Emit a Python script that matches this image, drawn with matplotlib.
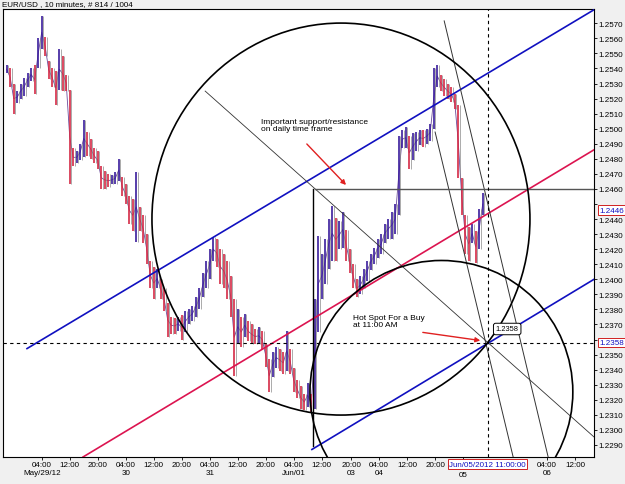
import matplotlib.pyplot as plt
from matplotlib.patches import Ellipse
import numpy as np

plt.rcParams['font.family'] = ['Liberation Sans', 'DejaVu Sans']

# hourly high/low of EUR/USD, x = trading hours since May/29 00:00 (weekend removed)
hours = list(range(-6, 131))
highs = [1.2542, 1.2540, 1.2530, 1.2525, 1.2530, 1.2534, 1.2537, 1.2540, 1.2542, 1.2560,
         1.2575, 1.2561, 1.2545, 1.2540, 1.2538, 1.2553, 1.2548, 1.2536, 1.2526, 1.2487,
         1.2485, 1.2490, 1.2506, 1.2498, 1.2493, 1.2487, 1.2485, 1.2475, 1.2472, 1.2470,
         1.2469, 1.2471, 1.2480, 1.2468, 1.2463, 1.2455, 1.2453, 1.2471, 1.2448, 1.2443,
         1.2430, 1.2412, 1.2408, 1.2407, 1.2400, 1.2394, 1.2384, 1.2375, 1.2374, 1.2375,
         1.2376, 1.2379, 1.2380, 1.2382, 1.2388, 1.2394, 1.2404, 1.2412, 1.2420, 1.2428,
         1.2427, 1.2420, 1.2417, 1.2412, 1.2402, 1.2387, 1.2380, 1.2375, 1.2377, 1.2372,
         1.2370, 1.2367, 1.2368, 1.2366, 1.2357, 1.2347, 1.2352, 1.2355, 1.2354, 1.2352,
         1.2366, 1.2354, 1.2341, 1.2333, 1.2329, 1.2324, 1.2331, 1.2324, 1.2387, 1.2429,
         1.2417, 1.2427, 1.2440, 1.2449, 1.2441, 1.2439, 1.2445, 1.2433, 1.2420, 1.2410,
         1.2400, 1.2402, 1.2407, 1.2412, 1.2417, 1.2421, 1.2427, 1.2430, 1.2437, 1.2440,
         1.2445, 1.2450, 1.2495, 1.2499, 1.2501, 1.2495, 1.2497, 1.2498, 1.2499, 1.2499,
         1.2500, 1.2503, 1.2540, 1.2542, 1.2536, 1.2533, 1.2530, 1.2528, 1.2523, 1.2516,
         1.2467, 1.2443, 1.2435, 1.2437, 1.2432, 1.2447, 1.2457]
lows = [1.2537, 1.2528, 1.2510, 1.2517, 1.2520, 1.2522, 1.2528, 1.2532, 1.2523, 1.2540,
        1.2553, 1.2548, 1.2533, 1.2528, 1.2516, 1.2526, 1.2525, 1.2525, 1.2463, 1.2475,
        1.2477, 1.2479, 1.2481, 1.2482, 1.2480, 1.2477, 1.2473, 1.2460, 1.2460, 1.2461,
        1.2463, 1.2463, 1.2465, 1.2455, 1.2450, 1.2437, 1.2432, 1.2425, 1.2432, 1.2424,
        1.2410, 1.2394, 1.2387, 1.2394, 1.2387, 1.2379, 1.2362, 1.2364, 1.2364, 1.2366,
        1.2360, 1.2365, 1.2370, 1.2372, 1.2375, 1.2380, 1.2388, 1.2394, 1.2400, 1.2412,
        1.2408, 1.2397, 1.2394, 1.2387, 1.2375, 1.2336, 1.2357, 1.2355, 1.2362, 1.2359,
        1.2357, 1.2357, 1.2357, 1.2354, 1.2342, 1.2325, 1.2335, 1.2341, 1.2339, 1.2337,
        1.2339, 1.2337, 1.2325, 1.2321, 1.2314, 1.2313, 1.2315, 1.2311, 1.2314, 1.2365,
        1.2387, 1.2397, 1.2407, 1.2412, 1.2412, 1.2420, 1.2421, 1.2412, 1.2404, 1.2394,
        1.2388, 1.2390, 1.2394, 1.2399, 1.2406, 1.2410, 1.2414, 1.2417, 1.2424, 1.2427,
        1.2427, 1.2430, 1.2443, 1.2487, 1.2487, 1.2473, 1.2479, 1.2485, 1.2489, 1.2488,
        1.2490, 1.2492, 1.2500, 1.2528, 1.2525, 1.2522, 1.2520, 1.2518, 1.2513, 1.2467,
        1.2443, 1.2417, 1.2412, 1.2424, 1.2411, 1.2420, 1.2443]

tick_pos = [4, 12, 20, 28, 36, 44, 52, 60, 68, 76, 84, 92.4, 100.4, 108.4, 116.4,
            124.4, 148.4, 156.4]
tick_lab = ['04:00\nMay/29/12', '12:00', '20:00', '04:00\n30', '12:00', '20:00',
            '04:00\n31', '12:00', '20:00', '04:00\nJun/01', '12:00', '20:00\n03',
            '04:00\n04', '12:00', '20:00', '', '04:00\n06', '12:00']

# drawn objects (time, price)
blue_up = [(-0.2, 1.2354), (161.8, 1.2579)]
blue_dn = [(81.2, 1.2287), (161.8, 1.2400)]
pink = [(15.8, 1.2282), (161.8, 1.2486)]
thin = [(50.7, 1.2525), (161.8, 1.22953)]
steep_a = [(119.0, 1.25716), (148.7, 1.2282)]
steep_b = [(116.4, 1.24978), (138.7, 1.2282)]
resist = 1.2460
hot_price = 1.2358
hot_time = 131.4
last_price = 1.2446

fig = plt.figure(figsize=(6.25, 4.85), dpi=100, facecolor='#f0f0f0')
ax = fig.add_axes([3/625, 27/485, 591/625, 448/485])
ax.set_facecolor('white')
ax.set_xlim(-7.06, 161.8)
ax.set_ylim(1.2282, 1.25795)

#price bars
h = np.array(highs); l = np.array(lows); mid = (h + l) / 2
ax.plot(hours, mid, color='#6a4a9a', lw=0.6, zorder=2)
for i in range(len(hours)):
    up = i == 0 or mid[i] >= mid[i-1]
    c = '#3a1c9c' if up else '#d42a46'
    ax.vlines(hours[i], l[i], h[i], color=c, lw=1.2, zorder=2)
    ax.vlines(hours[i] + 0.4, l[i], h[i], color='#8a8a8a', lw=0.5, zorder=2)

def seg(pts, **kw):
    ax.plot([p[0] for p in pts], [p[1] for p in pts], zorder=3, **kw)

seg(blue_up, color='#1010c0', lw=1.2)
seg(blue_dn, color='#1010c0', lw=1.2)
seg(pink, color='#dc1450', lw=1.2)
seg(thin, color='#333333', lw=0.6)
seg(steep_a, color='#333333', lw=0.7)
seg(steep_b, color='#333333', lw=0.7)
ax.plot([82.1, 161.8], [resist, resist], color='#555555', lw=1.0, zorder=3)
ax.plot([81.5, 81.5], [resist, 1.2289], color='black', lw=1.0, zorder=3)

ax.add_patch(Ellipse((89.5, 1.2440), 108, 0.02603, fill=False, ec='black', lw=1.2, zorder=3))
ax.add_patch(Ellipse((118.2, 1.23252), 75.1, 0.01746, fill=False, ec='black', lw=1.2, zorder=3))

ax.axvline(hot_time, color='black', lw=0.8, ls=(0, (3, 3)), zorder=3)
ax.axhline(hot_price, color='black', lw=0.8, ls=(0, (3, 3)), zorder=3)

arrow = dict(arrowstyle='-|>', color='#e02020', lw=1.0, mutation_scale=7)
ax.annotate('', xy=(91.5, 1.24613), xytext=(79.2, 1.24912), arrowprops=arrow, zorder=4)
ax.annotate('', xy=(130.1, 1.23591), xytext=(112.1, 1.23650), arrowprops=arrow, zorder=4)

ax.text(66.7, 1.2507, 'Important support/resistance\non daily time frame', fontsize=6.0,
        va='top', ha='left', linespacing=1.0, zorder=5)
ax.text(93.0, 1.2377, 'Hot Spot For a Buy\nat 11:00 AM', fontsize=6.0,
        va='top', ha='left', linespacing=1.0, zorder=5)
ax.text(137.0, 1.2367, '1.2358', fontsize=5.4, ha='center', va='center', zorder=5,
        bbox=dict(boxstyle='round,pad=0.3', fc='white', ec='black', lw=0.7))

ax.yaxis.tick_right()
yt = np.round(np.arange(1.2290, 1.2571, 0.001), 4)
ax.set_yticks(yt)
# labels hidden behind the price boxes are left blank
ax.set_yticklabels(['' if v in (1.2450, 1.2360) else '%.4f' % v for v in yt])
ax.set_xticks(tick_pos)
ax.set_xticklabels(tick_lab, linespacing=1.2)
ax.tick_params(axis='both', labelsize=5.8, length=2.2, width=0.6, pad=1)
for s in ax.spines.values():
    s.set_linewidth(0.8)

xtr = ax.get_xaxis_transform()
ax.text(124.4, -0.038, '05', transform=xtr, fontsize=5.8, ha='center', va='center', clip_on=False)

ytr = ax.get_yaxis_transform()
for v in [last_price, hot_price]:
    ax.text(1.0085, v, '%.4f' % v, transform=ytr, fontsize=5.8, color='#1010c0',
            ha='left', va='center', zorder=6, clip_on=False,
            bbox=dict(boxstyle='square,pad=0.15', fc='white', ec='#d02020', lw=0.7))
ax.text(hot_time, -0.016, 'Jun/05/2012 11:00:00', transform=xtr,
        fontsize=5.8, color='#1010c0', ha='center', va='center', clip_on=False, zorder=6,
        bbox=dict(boxstyle='square,pad=0.15', fc='white', ec='#d02020', lw=0.7))

fig.text(2/625, 1 - 5/485, 'EUR/USD , 10 minutes, # 814 / 1004', fontsize=5.8, va='center', ha='left')

fig.savefig('out.png', dpi=100, facecolor=fig.get_facecolor())
